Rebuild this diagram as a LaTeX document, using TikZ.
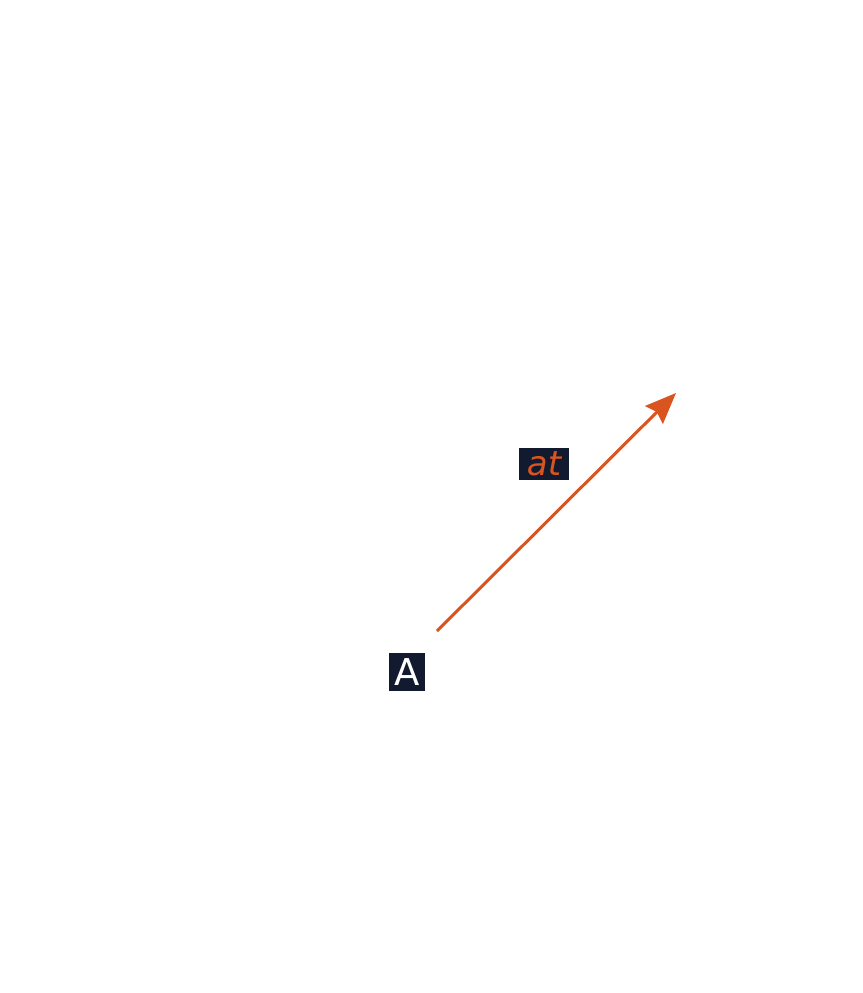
\documentclass[tikz,border=0pt]{standalone}
\usepackage{fontspec}
\setmainfont{DejaVu Sans}
\usetikzlibrary{arrows.meta}
\definecolor{navy}{HTML}{111A2E}
\definecolor{rust}{HTML}{D9541E}
\tikzset{
  lbl/.style={fill=navy, inner sep=0pt},
  vec/.style={draw=rust, line width=3pt, -{Stealth[length=31pt,width=25pt,inset=4pt]}}
}
\begin{document}
\begin{tikzpicture}[x=1pt,y=-1pt]
\useasboundingbox (0,0) rectangle (862,993);
\node[lbl, text=white, minimum width=36pt, minimum height=38pt, font=\fontsize{37}{37}\selectfont] (A) at (407,672) {A};
\coordinate (s) at (437,631);
\coordinate (e) at (676,393);
\draw[vec] (s) -- (e);
\node[lbl, text=rust, minimum width=50pt, minimum height=32pt, font=\fontsize{34}{34}\selectfont] (at) at (544,464) {\itshape at};
\end{tikzpicture}
\end{document}
